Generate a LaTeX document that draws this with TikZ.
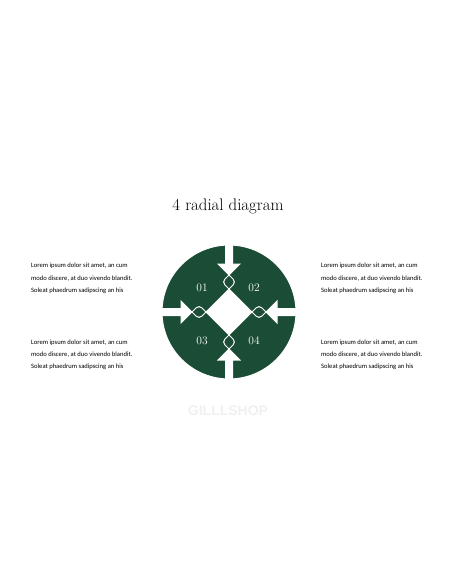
\documentclass[tikz,border=0pt]{standalone}
\usepackage{fontspec}
\newfontfamily\bodyfont{Carlito}
\newfontfamily\markfont{Liberation Sans}
\definecolor{leaf}{RGB}{27,76,54}
\definecolor{wm}{RGB}{240,240,240}
\begin{document}
\begin{tikzpicture}[x=1pt,y=1pt,
  piece/.style={fill=leaf},
  edge/.style={draw=white,line width=1pt},
  lbl/.style={text=white,font=\fontsize{11.5}{12}\selectfont},
  body/.style={font=\bodyfont\fontsize{6.6}{12.3}\selectfont,align=left,anchor=north west,inner sep=0pt}]
\useasboundingbox (0,0) rectangle (456,-586);
\node (title) at (228,-206) {\fontsize{16.8}{19}\selectfont \oldstylenums{4} radial diagram};
\begin{scope}[shift={(229,-312)}]
  \def\pieceone{(-3.5,66.9) -- (-3.5,48) -- (-11,48) -- (4.17,32.83) arc[start angle=45,end angle=-45,radius=4] -- (-27.17,-4.17) arc[start angle=-45,end angle=-135,radius=4] -- (-48,11) -- (-48,3.5) -- (-66.9,3.5) arc[start angle=177,end angle=93,radius=67] -- cycle}
  \foreach \sx/\sy in {1/1,-1/1,1/-1,-1/-1}{
    \path[piece,xscale=\sx,yscale=\sy] \pieceone;
  }
  \foreach \sx/\sy in {1/1,-1/1,1/-1,-1/-1}{
    \path[edge,xscale=\sx,yscale=\sy] \pieceone;
  }
  \node[lbl] (n1) at (-27,24) {\oldstylenums{01}};
  \node[lbl] (n2) at (25,24) {\oldstylenums{02}};
  \node[lbl] (n3) at (-27,-29) {\oldstylenums{03}};
  \node[lbl] (n4) at (25,-29) {\oldstylenums{04}};
\end{scope}
\node[body] (t1) at (31,-263) {Lorem ipsum dolor sit amet, an cum\\modo discere, at duo vivendo blandit.\\Soleat phaedrum sadipscing an his};
\node[body] (t2) at (321,-263) {Lorem ipsum dolor sit amet, an cum\\modo discere, at duo vivendo blandit.\\Soleat phaedrum sadipscing an his};
\node[body] (t3) at (31,-339.5) {Lorem ipsum dolor sit amet, an cum\\modo discere, at duo vivendo blandit.\\Soleat phaedrum sadipscing an his};
\node[body] (t4) at (321,-339.5) {Lorem ipsum dolor sit amet, an cum\\modo discere, at duo vivendo blandit.\\Soleat phaedrum sadipscing an his};
\node[text=wm,font=\markfont\bfseries\fontsize{14}{16}\selectfont] (wm) at (228,-411) {GILLLSHOP};
\end{tikzpicture}
\end{document}
